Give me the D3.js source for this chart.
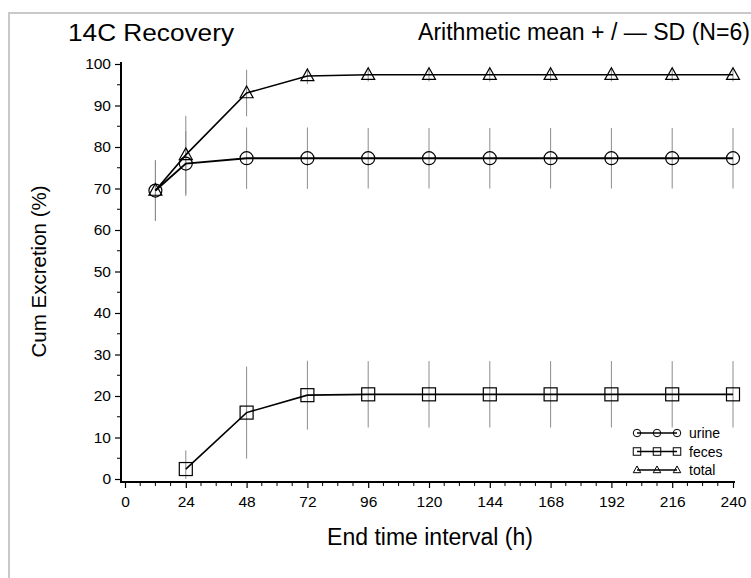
<!DOCTYPE html>
<html>
<head>
<meta charset="utf-8">
<script src="https://cdn.jsdelivr.net/npm/d3@7"></script>
<style>
  html, body { margin: 0; padding: 0; background: #fff; }
  svg { display: block; }
  text { font-family: "Liberation Sans", Arial, sans-serif; fill: #000; }
</style>
</head>
<body>
<div id="chart"></div>
<script>
// ── data ───────────────────────────────────────────────────────
const hours      = [12, 24, 48, 72, 96, 120, 144, 168, 192, 216, 240];
const urineMean  = [69.5, 76.0, 77.3, 77.3, 77.3, 77.3, 77.3, 77.3, 77.3, 77.3, 77.3];
const urineSD    = [7.3, 7.8, 7.4, 7.4, 7.3, 7.3, 7.3, 7.3, 7.3, 7.3, 7.3];
const fecesHours = [24, 48, 72, 96, 120, 144, 168, 192, 216, 240];
const fecesMean  = [2.4, 16.0, 20.2, 20.4, 20.4, 20.4, 20.4, 20.4, 20.4, 20.4];
const fecesSD    = [4.5, 11.1, 8.3, 8.0, 8.0, 8.0, 8.0, 8.0, 8.0, 8.0];
const totalMean  = [69.5, 78.1, 93.0, 97.1, 97.4, 97.4, 97.4, 97.4, 97.4, 97.4, 97.4];
const totalSD    = [7.3, 9.4, 5.6, 1.9, 1.6, 1.6, 1.6, 1.6, 1.6, 1.6, 1.6];

const xTicks = [0, 24, 48, 72, 96, 120, 144, 168, 192, 216, 240];
const yTicks = [0, 10, 20, 30, 40, 50, 60, 70, 80, 90, 100];
const legendNames = ['urine', 'feces', 'total'];

const W = 751, H = 578;

const svg = d3.select('#chart').append('svg')
  .attr('width', W).attr('height', H);

// outer gray frame (top + left only are visible)
svg.append('path')
  .attr('d', `M9,${H} V13 H${W}`)
  .attr('fill', 'none')
  .attr('stroke', '#c9c9c9')
  .attr('stroke-width', 2);

// scales
const x = d3.scaleLinear().domain([0, 240]).range([125, 733]);
const y = d3.scaleLinear().domain([0, 100]).range([479, 64]);

const axisX0 = x.range()[0] - 4;   // axis frame sits slightly off the 0 value
const axisY0 = y.range()[0] + 3;

// ── axes ─────────────────────────────────────────────
const yAxis = svg.append('g')
  .attr('transform', `translate(${axisX0},0)`)
  .call(d3.axisLeft(y).tickValues(yTicks).tickSize(6).tickPadding(4))
  .call(g => g.select('.domain').remove());
yAxis.selectAll('.tick text')
  .attr('font-size', '15.5px')
  .attr('font-family', '"Liberation Sans", Arial, sans-serif')
  .attr('fill', '#000');
yAxis.selectAll('.tick line').attr('stroke', '#000').attr('stroke-width', 1.2);

// y minor ticks
svg.append('g')
  .selectAll('line')
  .data(d3.range(5, 100, 10))
  .enter().append('line')
    .attr('x1', axisX0 - 4).attr('x2', axisX0)
    .attr('y1', d => y(d)).attr('y2', d => y(d))
    .attr('stroke', '#000').attr('stroke-width', 1);

const xAxis = svg.append('g')
  .attr('transform', `translate(0,${axisY0})`)
  .call(d3.axisBottom(x).tickValues(xTicks).tickSize(6).tickPadding(8))
  .call(g => g.select('.domain').remove());
xAxis.selectAll('.tick text')
  .attr('font-size', '15.5px')
  .attr('font-family', '"Liberation Sans", Arial, sans-serif')
  .attr('fill', '#000');
xAxis.selectAll('.tick line').attr('stroke', '#000').attr('stroke-width', 1.2);

// x minor ticks every 6 h
svg.append('g')
  .selectAll('line')
  .data(d3.range(6, 240, 6).filter(d => d % 24 !== 0))
  .enter().append('line')
    .attr('x1', d => x(d)).attr('x2', d => x(d))
    .attr('y1', axisY0).attr('y2', axisY0 + 4)
    .attr('stroke', '#000').attr('stroke-width', 1);

// axis lines
svg.append('path')
  .attr('d', `M${axisX0},${y(100) - 2} V${axisY0} H${x(240) + 2}`)
  .attr('fill', 'none')
  .attr('stroke', '#000')
  .attr('stroke-width', 2);

// axis labels
svg.append('text')
  .attr('x', (x.range()[0] + x.range()[1]) / 2 + 1)
  .attr('y', 545)
  .attr('text-anchor', 'middle')
  .attr('font-size', '23px')
  .text('End time interval (h)');

svg.append('text')
  .attr('transform', `translate(46,${(y.range()[0] + y.range()[1]) / 2}) rotate(-90)`)
  .attr('text-anchor', 'middle')
  .attr('font-size', '20.5px')
  .text('Cum Excretion (%)');

// titles
svg.append('text')
  .attr('x', 68).attr('y', 41)
  .attr('font-size', '24px')
  .attr('textLength', 166)
  .attr('lengthAdjust', 'spacingAndGlyphs')
  .text('14C Recovery');

svg.append('text')
  .attr('x', 418).attr('y', 40)
  .attr('font-size', '23px')
  .attr('textLength', 332)
  .attr('lengthAdjust', 'spacingAndGlyphs')
  .text('Arithmetic mean  + / \u2014  SD  (N=6)');

// ── series ─────────────────────────────────────────────
const series = [
  { name: 'urine', xs: hours,      mean: urineMean, sd: urineSD, shape: 'circle', width: 2 },
  { name: 'feces', xs: fecesHours, mean: fecesMean, sd: fecesSD, shape: 'square', width: 1.6 },
  { name: 'total', xs: hours,      mean: totalMean, sd: totalSD, shape: 'triangle', width: 1.6 }
];

const rows = s => s.xs.map((h, i) => ({ h, m: s.mean[i], sd: s.sd[i] }));

// error bars (behind everything)
const barsG = svg.append('g').attr('class', 'errorbars');
series.forEach(s => {
  barsG.selectAll(null)
    .data(rows(s))
    .enter().append('line')
      .attr('x1', d => x(d.h)).attr('x2', d => x(d.h))
      .attr('y1', d => y(Math.min(100, d.m + d.sd)))
      .attr('y2', d => y(Math.max(0, d.m - d.sd)))
      .attr('stroke', '#8c8c8c')
      .attr('stroke-width', 1);
});

const line = d3.line().x(d => x(d.h)).y(d => y(d.m));

function marker(g, shape, size) {
  if (shape === 'circle') {
    return g.append('circle').attr('r', size / 2);
  } else if (shape === 'square') {
    return g.append('rect')
      .attr('x', -size / 2).attr('y', -size / 2)
      .attr('width', size).attr('height', size);
  }
  const h = size * 0.9;
  return g.append('path')
    .attr('d', `M0,${-h * 0.6} L${size / 2},${h * 0.4} L${-size / 2},${h * 0.4} Z`);
}

series.forEach(s => {
  svg.append('path')
    .datum(rows(s))
    .attr('d', line)
    .attr('fill', 'none')
    .attr('stroke', '#000')
    .attr('stroke-width', s.width);

  const pts = svg.append('g').selectAll('g')
    .data(rows(s))
    .enter().append('g')
      .attr('transform', d => `translate(${x(d.h)},${y(d.m)})`);
  pts.each(function () {
    marker(d3.select(this), s.shape, 13)
      .attr('fill', 'none')
      .attr('stroke', '#000')
      .attr('stroke-width', 1.2);
  });
});

// ── legend ─────────────────────────────────────────────
const legend = svg.append('g').attr('transform', 'translate(637,433)');
series.forEach((s, i) => {
  const row = legend.append('g').attr('transform', `translate(0,${i * 18.5})`);
  row.append('line')
    .attr('x1', 0).attr('x2', 40)
    .attr('stroke', '#000').attr('stroke-width', 1.6);
  [0, 20, 40].forEach(dx => {
    marker(row.append('g').attr('transform', `translate(${dx},0)`), s.shape, 7.5)
      .attr('fill', 'none')
      .attr('stroke', '#000')
      .attr('stroke-width', 1);
  });
  row.append('text')
    .attr('x', 52).attr('y', 5)
    .attr('font-size', '14px')
    .text(legendNames[i]);
});
</script>
</body>
</html>
